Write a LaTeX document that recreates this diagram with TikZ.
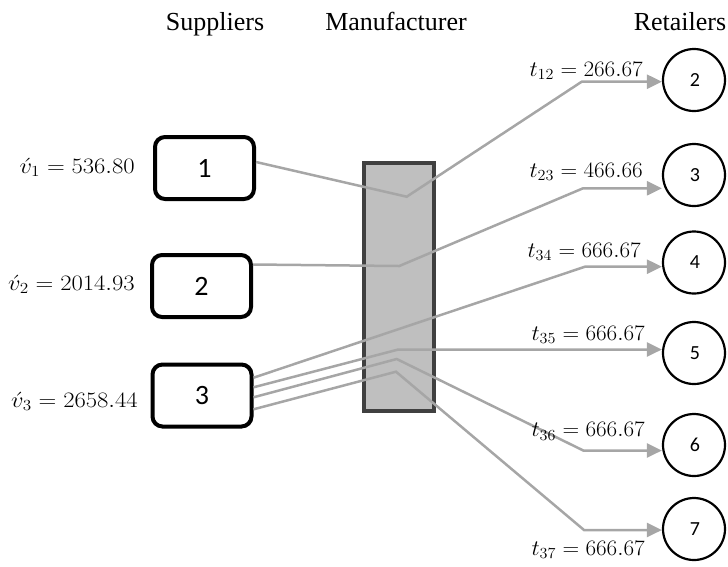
\documentclass[tikz,border=0pt]{standalone}
\usepackage{fix-cm}
\usepackage{fontspec}
\usepackage{graphicx}
\newfontfamily\titlefont{Liberation Serif}
\newfontfamily\numfont{Carlito}
\usetikzlibrary{arrows.meta,calc}
\definecolor{flow}{HTML}{A6A6A6}
\definecolor{mfrfill}{HTML}{BFBFBF}
\definecolor{mfrline}{HTML}{404040}
\newcommand{\vwide}[1]{\scalebox{1.12}[1]{#1}}
\newcommand{\twide}[1]{\scalebox{1.05}[1]{#1}}
\tikzset{
  title/.style={anchor=base,font=\titlefont\fontsize{26}{30}\selectfont,inner sep=0pt},
  supbox/.style={draw=black,line width=4pt,rounded corners=10pt,minimum width=99pt,minimum height=62pt,inner sep=0pt,font=\numfont\fontsize{28}{32}\selectfont},
  retail/.style={draw=black,line width=2.2pt,circle,minimum size=62pt,inner sep=0pt,font=\numfont\fontsize{20}{24}\selectfont},
  mfr/.style={draw=mfrline,fill=mfrfill,line width=4pt,minimum width=70pt,minimum height=248pt,inner sep=0pt},
  flowline/.style={draw=flow,line width=2.5pt,line join=miter},
  flowarrow/.style={flowline,-{Triangle[length=15pt,width=14pt]}},
  vlab/.style={anchor=base east,inner sep=0pt,font=\fontsize{22}{26}\selectfont},
  tlab/.style={anchor=base east,inner sep=0pt,font=\fontsize{22}{26}\selectfont},
}
\begin{document}
\begin{tikzpicture}[x=1pt,y=-1pt]
\useasboundingbox (0,0) rectangle (728,566);
% titles
\node[title] (tsup) at (215,30) {Suppliers};
\node[title] (tman) at (396,30) {Manufacturer};
\node[title] (tret) at (680,30) {Retailers};
% manufacturer
\node[mfr] (m) at (399,287) {};
% suppliers
\node[supbox] (s1) at (204.5,168) {1};
\node[supbox] (s2) at (201.5,286) {2};
\node[supbox] (s3) at (202,395.5) {3};
\node[vlab] (v1) at (135,173) {\vwide{$\acute{v}_1 = 536.80$}};
\node[vlab] (v2) at (135,290) {\vwide{$\acute{v}_2 = 2014.93$}};
\node[vlab] (v3) at (138,407) {\vwide{$\acute{v}_3 = 2658.44$}};
% retailers
\node[retail] (c2) at (694,80) {\hspace{2pt}2};
\node[retail] (c3) at (694,175) {\hspace{2pt}3};
\node[retail] (c4) at (694,262.5) {\hspace{2pt}4};
\node[retail] (c5) at (694,353) {\hspace{2pt}5};
\node[retail] (c6) at (694,445) {\hspace{2pt}6};
\node[retail] (c7) at (694,529) {\hspace{2pt}7};
% points inside manufacturer and bends
\coordinate (p1) at (406.7,196.7);
\coordinate (p2) at (399.3,266);
\coordinate (p5) at (398.3,349.5);
\coordinate (p6) at (396.7,359);
\coordinate (p7) at (396,371.7);
\coordinate (k2) at (581.7,81.7);
\coordinate (k3) at (583,188.3);
\coordinate (k4) at (585,266.7);
\coordinate (k6) at (583.3,450.5);
\coordinate (k7) at (584,530);
% flows
\draw[flowarrow] ($(s1.east)+(0,-6)$) -- (p1) -- (k2) -- (k2 -| c2.west);
\draw[flowarrow] ($(s2.east)+(0,-21.5)$) -- (p2) -- (k3) -- (k3 -| c3.west);
\draw[flowarrow] ($(s3.east)+(0,-17.8)$) -- (k4) -- (k4 -| c4.west);
\draw[flowarrow] ($(s3.east)+(0,-8.2)$) -- (p5) -- (p5 -| c5.west);
\draw[flowarrow] ($(s3.east)+(0,1.8)$) -- (p6) -- (k6) -- (k6 -| c6.west);
\draw[flowarrow] ($(s3.east)+(0,13.8)$) -- (p7) -- (k7) -- (k7 -| c7.west);
% flow labels
\node[tlab] (t12) at (643,76) {\twide{$t_{12} = 266.67$}};
\node[tlab] (t23) at (643,177.3) {\twide{$t_{23} = 466.66$}};
\node[tlab] (t34) at (641,257) {\twide{$t_{34} = 666.67$}};
\node[tlab] (t35) at (645,340) {\twide{$t_{35} = 666.67$}};
\node[tlab] (t36) at (645,436.7) {\twide{$t_{36} = 666.67$}};
\node[tlab] (t37) at (645,555) {\twide{$t_{37} = 666.67$}};
\end{tikzpicture}
\end{document}
